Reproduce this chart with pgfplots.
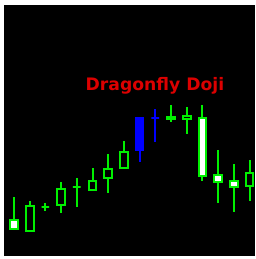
\documentclass[border=0pt]{standalone}
\usepackage{pgfplots}
\pgfplotsset{compat=1.18}
\usepackage{fontspec}
\setmainfont{DejaVu Sans}
\definecolor{cgreen}{RGB}{0,240,0}
\definecolor{cblue}{RGB}{0,0,255}
\definecolor{cred}{RGB}{220,0,0}
\begin{document}
\begin{tikzpicture}[x=1pt,y=1pt]
\path[use as bounding box,fill=white] (0,0) rectangle (256,259);
\begin{axis}[
  at={(4pt,3pt)}, anchor=south west,
  scale only axis, width=251pt, height=251pt,
  xmin=-0.637, xmax=15.350, ymin=3, ymax=254,
  axis line style={draw=none}, ticks=none,
  axis background/.style={fill=black},
  clip=true, unbounded coords=jump,
  every axis plot/.append style={line width=2pt, line join=miter},
]
% wicks (low to high)
\addplot[cgreen] coordinates {
 (0,29) (0,62) (nan,nan)
 (1,27) (1,58) (nan,nan)
 (2,48) (2,56) (nan,nan)
 (3,46) (3,77) (nan,nan)
 (4,52) (4,81) (nan,nan)
 (5,68) (5,91) (nan,nan)
 (6,66) (6,105) (nan,nan)
 (7,90) (7,118) (nan,nan)
 (10,137) (10,154) (nan,nan)
 (11,125) (11,152) (nan,nan)
 (12,78) (12,154) (nan,nan)
 (13,56) (13,109) (nan,nan)
 (14,47) (14,95) (nan,nan)
 (15,58) (15,99)
};
\addplot[cblue] coordinates {
 (8,97) (8,142) (nan,nan)
 (9,117) (9,150)
};
% bodies
\addplot[draw=cgreen,fill=white] coordinates {(-0.245,30) (0.245,30) (0.245,39) (-0.245,39)} -- cycle;
\addplot[draw=cgreen,fill=black] coordinates {(0.755,28) (1.245,28) (1.245,53) (0.755,53)} -- cycle;
\addplot[draw=cgreen,fill=cgreen] coordinates {(1.755,52) (2.245,52) (2.245,52) (1.755,52)} -- cycle;
\addplot[draw=cgreen,fill=black] coordinates {(2.755,54) (3.245,54) (3.245,70) (2.755,70)} -- cycle;
\addplot[draw=cgreen,fill=cgreen] coordinates {(3.755,72) (4.245,72) (4.245,72) (3.755,72)} -- cycle;
\addplot[draw=cgreen,fill=black] coordinates {(4.755,69) (5.245,69) (5.245,78) (4.755,78)} -- cycle;
\addplot[draw=cgreen,fill=black] coordinates {(5.755,81) (6.245,81) (6.245,90) (5.755,90)} -- cycle;
\addplot[draw=cgreen,fill=black] coordinates {(6.755,91) (7.245,91) (7.245,107) (6.755,107)} -- cycle;
\addplot[draw=cblue,fill=cblue] coordinates {(7.755,109) (8.245,109) (8.245,141) (7.755,141)} -- cycle;
\addplot[draw=cblue,fill=cblue] coordinates {(8.755,141) (9.245,141) (9.245,141) (8.755,141)} -- cycle;
\addplot[draw=cgreen,fill=cgreen] coordinates {(9.755,140) (10.245,140) (10.245,142) (9.755,142)} -- cycle;
\addplot[draw=cgreen,fill=black] coordinates {(10.755,140) (11.245,140) (11.245,143) (10.755,143)} -- cycle;
\addplot[draw=cgreen,fill=white] coordinates {(11.755,83) (12.245,83) (12.245,141) (11.755,141)} -- cycle;
\addplot[draw=cgreen,fill=white] coordinates {(12.755,77) (13.245,77) (13.245,84) (12.755,84)} -- cycle;
\addplot[draw=cgreen,fill=white] coordinates {(13.755,72) (14.245,72) (14.245,78) (13.755,78)} -- cycle;
\addplot[draw=cgreen,fill=black] coordinates {(14.755,73) (15.245,73) (15.245,86) (14.755,86)} -- cycle;
\node[anchor=base,text=cred,font=\bfseries\fontsize{17.2}{17.2}\selectfont,inner sep=0pt] at (axis cs:8.98,168.3) {Dragonfly Doji};
\end{axis}
\end{tikzpicture}
\end{document}
